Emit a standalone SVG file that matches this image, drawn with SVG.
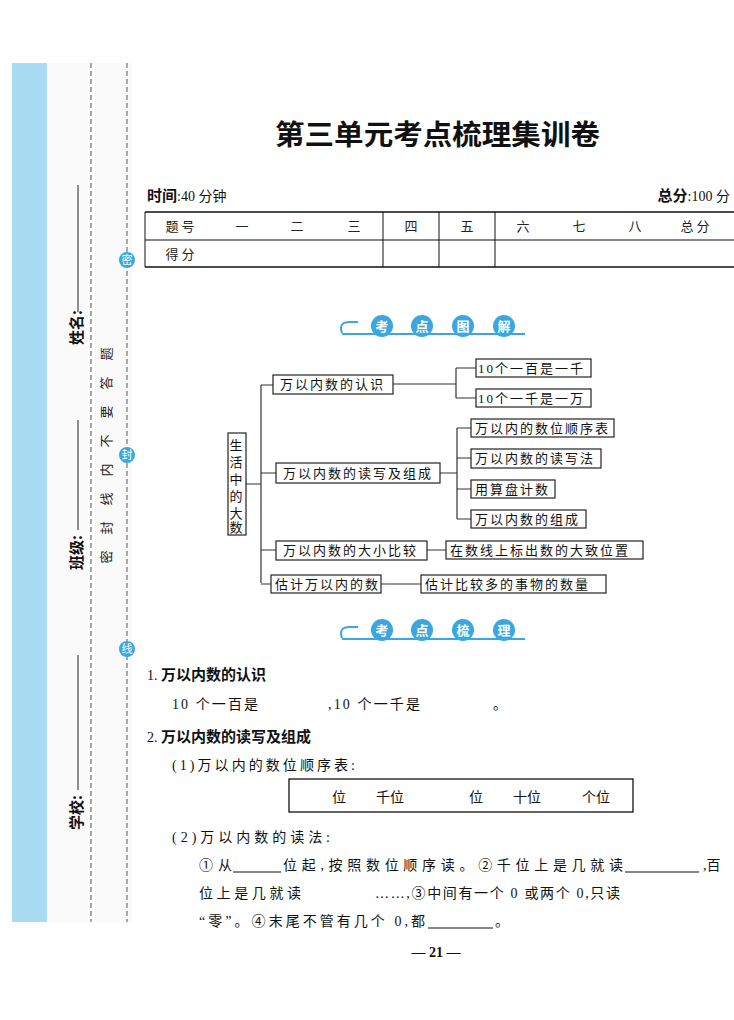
<svg xmlns="http://www.w3.org/2000/svg" width="734" height="1020" viewBox="0 0 734 1020">
<style>
.t{font-family:"Liberation Serif","Noto Sans CJK SC",serif;font-size:14px;fill:#111}
.b{font-family:"Noto Sans CJK SC",sans-serif;font-size:15px;font-weight:bold;fill:#111}
.s{font-family:"Noto Sans CJK SC",sans-serif;font-size:13px;fill:#222}
.m{font-family:"Liberation Serif","Noto Sans CJK SC",serif;font-size:13px;fill:#111;letter-spacing:2px}
.bx{fill:#fff;stroke:#222;stroke-width:1.2}
.ln{fill:none;stroke:#333;stroke-width:1.2}
.dash{stroke:#555;stroke-width:1;stroke-dasharray:5,3}
.ci{fill:#3aa7e0}
.ct{font-family:"Noto Sans CJK SC",sans-serif;font-size:11px;fill:#fff;text-anchor:middle}
.bn{font-family:"Noto Sans CJK SC",sans-serif;font-size:13px;font-weight:bold;fill:#fff;text-anchor:middle}
</style>
<rect width="734" height="1020" fill="#fff"/>
<g id="margin">
<rect x="12" y="63" width="35" height="859" fill="#a9dcf3"/>
<rect x="47" y="63" width="85" height="859" fill="#fafafa"/>
<line x1="91" y1="63" x2="91" y2="922" class="dash"/>
<line x1="127" y1="63" x2="127" y2="922" class="dash"/>
<circle cx="127" cy="260" r="8" class="ci"/><text x="127" y="264" class="ct">密</text>
<circle cx="127" cy="455" r="8" class="ci"/><text x="127" y="459" class="ct">封</text>
<circle cx="127" cy="649" r="8" class="ci"/><text x="127" y="653" class="ct">线</text>
<g class="s" text-anchor="middle" font-size="12">
<text transform="translate(111,354) rotate(-90)">题</text><text transform="translate(111,383) rotate(-90)">答</text><text transform="translate(111,412) rotate(-90)">要</text><text transform="translate(111,441) rotate(-90)">不</text><text transform="translate(111,470) rotate(-90)">内</text><text transform="translate(111,499) rotate(-90)">线</text><text transform="translate(111,528) rotate(-90)">封</text><text transform="translate(111,557) rotate(-90)">密</text>
</g>
<line x1="78" y1="185" x2="78" y2="312" stroke="#222"/>
<line x1="78" y1="420" x2="78" y2="530" stroke="#222"/>
<line x1="78" y1="655" x2="78" y2="790" stroke="#222"/>
<text transform="translate(82,345) rotate(-90)" class="b" font-size="14" font-weight="normal">姓名:</text>
<text transform="translate(82,570) rotate(-90)" class="b" font-size="14" font-weight="normal">班级:</text>
<text transform="translate(82,830) rotate(-90)" class="b" font-size="14" font-weight="normal">学校:</text>
</g>
<g id="header">
<text x="275" y="145" textLength="325" lengthAdjust="spacingAndGlyphs" font-family="Noto Sans CJK SC,serif" font-weight="bold" font-size="28" fill="#111">第三单元考点梳理集训卷</text>
<text x="147" y="201" class="t"><tspan class="b" font-size="13">时间</tspan>:40 分钟</text>
<text x="730" y="201" class="t" text-anchor="end"><tspan class="b" font-size="13">总分</tspan>:100 分</text>
<line x1="145" y1="212" x2="734" y2="212" stroke="#111" stroke-width="1.3"/>
<line x1="145" y1="240" x2="734" y2="240" stroke="#111"/>
<line x1="145" y1="267" x2="734" y2="267" stroke="#111" stroke-width="1.3"/>
<line x1="145" y1="212" x2="145" y2="267" stroke="#111"/>
<line x1="383" y1="212" x2="383" y2="267" stroke="#111"/>
<line x1="439" y1="212" x2="439" y2="267" stroke="#111"/>
<line x1="495" y1="212" x2="495" y2="267" stroke="#111"/>
<g class="s" font-size="14" text-anchor="middle">
<text x="180" y="231">题 号</text><text x="242" y="231">一</text><text x="297" y="231">二</text><text x="354" y="231">三</text><text x="411" y="231">四</text><text x="467" y="231">五</text><text x="523" y="231">六</text><text x="579" y="231">七</text><text x="635" y="231">八</text><text x="695" y="231">总 分</text>
<text x="180" y="259">得 分</text>
</g>
</g>
<g id="banner1">
<path d="M342 333 Q338 322 350 322 L358 322" fill="none" stroke="#3aa7e0" stroke-width="2"/>
<path d="M342 334 L525 334" stroke="#3aa7e0" stroke-width="2"/>
<circle cx="382" cy="326" r="11" class="ci"/><text x="382" y="331" class="bn">考</text>
<circle cx="422" cy="326" r="11" class="ci"/><text x="422" y="331" class="bn">点</text>
<circle cx="463" cy="326" r="11" class="ci"/><text x="463" y="331" class="bn">图</text>
<circle cx="504" cy="326" r="11" class="ci"/><text x="504" y="331" class="bn">解</text>
</g>
<g id="connectors" class="ln">
<path d="M246 484 H261 M261 385 V583 M261 385 H273 M261 473 H276 M261 550 H276 M261 584 H271"/>
<path d="M393 384 H456 M456 368 V398 M456 368 H476 M456 398 H476"/>
<path d="M440 473 H457 M457 428 V519 M457 428 H471 M457 458 H471 M457 489 H471 M457 519 H471"/>
<path d="M427 550 H446 M381 584 H421"/>
</g>
<g id="root"><rect x="228" y="433" width="18" height="102" class="bx"/>
<text class="m" text-anchor="middle" letter-spacing="0"><tspan x="237" y="450">生</tspan><tspan x="237" y="467">活</tspan><tspan x="237" y="484">中</tspan><tspan x="237" y="501">的</tspan><tspan x="237" y="518">大</tspan><tspan x="237" y="532">数</tspan></text></g>
<g id="n1"><rect x="273" y="375" width="120" height="19" class="bx"/><text x="280" y="389" class="m">万以内数的认识</text></g>
<g id="n2"><rect x="276" y="463" width="164" height="20" class="bx"/><text x="283" y="478" class="m">万以内数的读写及组成</text></g>
<g id="n3"><rect x="276" y="541" width="151" height="19" class="bx"/><text x="283" y="555" class="m">万以内数的大小比较</text></g>
<g id="n4"><rect x="271" y="575" width="110" height="18" class="bx"/><text x="275" y="589" class="m">估计万以内的数</text></g>
<g id="l1"><rect x="476" y="359" width="115" height="18" class="bx"/><text x="478" y="373" class="m" letter-spacing="0.5">10个一百是一千</text></g>
<g id="l2"><rect x="476" y="389" width="115" height="18" class="bx"/><text x="478" y="403" class="m" letter-spacing="0.5">10个一千是一万</text></g>
<g id="l3"><rect x="471" y="419" width="143" height="18" class="bx"/><text x="475" y="433" class="m">万以内的数位顺序表</text></g>
<g id="l4"><rect x="471" y="449" width="130" height="19" class="bx"/><text x="475" y="463" class="m">万以内数的读写法</text></g>
<g id="l5"><rect x="471" y="480" width="84" height="18" class="bx"/><text x="475" y="494" class="m">用算盘计数</text></g>
<g id="l6"><rect x="471" y="510" width="115" height="18" class="bx"/><text x="475" y="524" class="m">万以内数的组成</text></g>
<g id="l7"><rect x="446" y="541" width="197" height="18" class="bx"/><text x="450" y="555" class="m">在数线上标出数的大致位置</text></g>
<g id="l8"><rect x="421" y="575" width="185" height="18" class="bx"/><text x="425" y="589" class="m">估计比较多的事物的数量</text></g>
<g id="banner2">
<path d="M342 638 Q338 627 350 627 L358 627" fill="none" stroke="#3aa7e0" stroke-width="2"/>
<path d="M342 639 L525 639" stroke="#3aa7e0" stroke-width="2"/>
<circle cx="382" cy="630" r="11" class="ci"/><text x="382" y="635" class="bn">考</text>
<circle cx="422" cy="630" r="11" class="ci"/><text x="422" y="635" class="bn">点</text>
<circle cx="463" cy="630" r="11" class="ci"/><text x="463" y="635" class="bn">梳</text>
<circle cx="504" cy="630" r="11" class="ci"/><text x="504" y="635" class="bn">理</text>
</g>
<g id="body">
<text x="147" y="680" class="t">1.  <tspan class="b">万以内数的认识</tspan></text>
<text x="172" y="709" class="t" textLength="86" lengthAdjust="spacing">10 个一百是</text>
<text x="328" y="709" class="t" textLength="92" lengthAdjust="spacing">,10 个一千是</text>
<text x="493" y="709" class="t">。</text>
<text x="147" y="742" class="t">2.  <tspan class="b">万以内数的读写及组成</tspan></text>
<text x="172" y="770" class="t" textLength="183" lengthAdjust="spacing">(1)万以内的数位顺序表:</text>
<rect x="289" y="779" width="344" height="33" fill="none" stroke="#111" stroke-width="1.3"/>
<g class="t"><text x="332" y="802">位</text><text x="376" y="802">千位</text><text x="469" y="802">位</text><text x="513" y="802">十位</text><text x="582" y="802">个位</text></g>
<text x="172" y="842" class="t" textLength="158" lengthAdjust="spacing">(2)万以内数的读法:</text>
<text x="199" y="870" class="t" textLength="33" lengthAdjust="spacing">①从</text>
<text x="283" y="870" class="t" textLength="340" lengthAdjust="spacing">位起,按照数位顺序读。②千位上是几就读</text>
<text x="703" y="870" class="t">,百</text>
<line x1="233" y1="872" x2="281" y2="872" stroke="#111"/>
<line x1="625" y1="872" x2="699" y2="872" stroke="#111"/>
<text x="199" y="898" class="t" textLength="102" lengthAdjust="spacing">位上是几就读</text>
<text x="375" y="898" class="t" textLength="245" lengthAdjust="spacing">……,③中间有一个 0 或两个 0,只读</text>
<text x="199" y="926" class="t" textLength="226" lengthAdjust="spacing">“零”。④末尾不管有几个 0,都</text>
<text x="495" y="926" class="t">。</text>
<line x1="428" y1="928" x2="493" y2="928" stroke="#111"/>
<text x="436" y="957" class="t" text-anchor="middle" font-weight="bold">— 21 —</text>
</g>
</svg>
